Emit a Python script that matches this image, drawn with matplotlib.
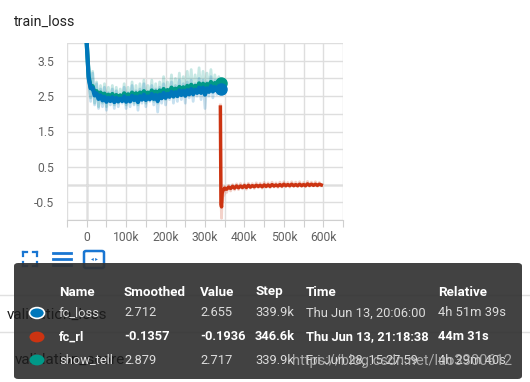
import matplotlib
matplotlib.use('Agg')
import matplotlib.pyplot as plt
from matplotlib.patches import FancyBboxPatch, Circle
from matplotlib.lines import Line2D

plt.rcParams['font.family'] = ['Roboto', 'DejaVu Sans']

# ---- data ----
fc_steps = [s * 1000 for s in range(0, 345, 5)]  # 0 .. 340k

fc_loss_raw = [4.10, 2.95, 2.35, 3.15, 2.25, 2.85, 2.15, 2.70, 2.20, 2.75,
               2.10, 2.60, 2.25, 2.70, 2.15, 2.65, 2.20, 2.55, 2.30, 2.75,
               2.15, 2.60, 2.20, 2.80, 2.25, 2.65, 2.10, 2.70, 2.30, 2.85,
               2.20, 2.60, 2.35, 2.80, 2.25, 2.70, 2.05, 2.75, 2.30, 2.85,
               2.25, 2.70, 2.40, 2.90, 2.30, 2.80, 2.35, 2.95, 2.40, 2.85,
               2.30, 2.90, 2.45, 2.95, 2.35, 2.85, 2.50, 3.00, 2.40, 2.95,
               2.15, 2.90, 2.50, 3.05, 2.45, 2.95, 2.55, 2.90, 2.655]
fc_loss_smooth = [4.00, 3.00, 2.72, 2.74, 2.52, 2.58, 2.42, 2.52, 2.38, 2.48,
                  2.34, 2.45, 2.36, 2.47, 2.33, 2.45, 2.35, 2.43, 2.36, 2.49,
                  2.34, 2.45, 2.35, 2.51, 2.39, 2.48, 2.33, 2.50, 2.40, 2.54,
                  2.39, 2.49, 2.41, 2.56, 2.42, 2.53, 2.36, 2.54, 2.44, 2.59,
                  2.45, 2.56, 2.48, 2.62, 2.49, 2.61, 2.50, 2.66, 2.53, 2.65,
                  2.51, 2.67, 2.55, 2.70, 2.55, 2.68, 2.59, 2.74, 2.59, 2.74,
                  2.54, 2.72, 2.62, 2.78, 2.63, 2.76, 2.66, 2.77, 2.712]

show_tell_raw = [4.05, 3.00, 2.45, 3.20, 2.30, 2.90, 2.20, 2.80, 2.30, 2.85,
                 2.20, 2.75, 2.35, 2.80, 2.25, 2.75, 2.30, 2.70, 2.40, 2.85,
                 2.25, 2.75, 2.35, 2.90, 2.30, 2.80, 2.25, 2.85, 2.40, 2.95,
                 2.30, 2.80, 2.45, 2.95, 2.35, 2.85, 2.30, 2.90, 2.45, 3.05,
                 2.40, 2.90, 2.50, 3.10, 2.45, 3.00, 2.50, 3.15, 2.55, 3.05,
                 2.50, 3.20, 2.60, 3.25, 2.55, 3.10, 2.65, 3.30, 2.60, 3.20,
                 2.55, 3.15, 2.70, 3.25, 2.65, 3.10, 2.75, 3.05, 2.717]
show_tell_smooth = [4.00, 3.05, 2.76, 2.78, 2.58, 2.64, 2.49, 2.60, 2.47, 2.57,
                    2.43, 2.54, 2.44, 2.56, 2.42, 2.53, 2.44, 2.52, 2.45, 2.58,
                    2.44, 2.55, 2.46, 2.60, 2.48, 2.58, 2.45, 2.60, 2.50, 2.64,
                    2.49, 2.60, 2.52, 2.66, 2.52, 2.63, 2.51, 2.66, 2.56, 2.70,
                    2.55, 2.67, 2.58, 2.74, 2.60, 2.71, 2.61, 2.76, 2.64, 2.75,
                    2.62, 2.79, 2.68, 2.82, 2.67, 2.79, 2.71, 2.86, 2.72, 2.85,
                    2.70, 2.84, 2.76, 2.90, 2.77, 2.87, 2.80, 2.89, 2.879]

rl_steps = [339000, 340500, 342000, 343500, 345000, 346600, 348000, 350000] + \
           [s * 1000 for s in range(355, 600, 5)]
fc_rl_raw = [2.25, -0.40, -0.95, -0.30, -0.45, -0.1936, -0.30, -0.05,
             -0.22, -0.02, -0.18, 0.00, -0.15, 0.02, -0.14, 0.03, -0.12, 0.02,
             -0.13, 0.04, -0.10, 0.03, -0.11, 0.05, -0.09, 0.04, -0.10, 0.06,
             -0.08, 0.05, -0.09, 0.07, -0.07, 0.05, -0.08, 0.07, -0.07, 0.08,
             -0.06, 0.06, -0.07, 0.08, -0.05, 0.07, -0.06, 0.08, -0.05, 0.06,
             -0.06, 0.09, -0.05, 0.07, -0.04, 0.08, -0.05, 0.06, -0.03]
fc_rl_smooth = [2.19, -0.55, -0.63, -0.25, -0.18, -0.1357, -0.14, -0.10,
                -0.13, -0.07, -0.11, -0.05, -0.10, -0.04, -0.09, -0.04, -0.08, -0.03,
                -0.08, -0.02, -0.07, -0.03, -0.06, -0.02, -0.05, -0.02, -0.06, -0.01,
                -0.05, -0.01, -0.05, 0.00, -0.04, -0.01, -0.04, 0.00, -0.04, 0.01,
                -0.03, 0.00, -0.03, 0.01, -0.03, 0.00, -0.03, 0.01, -0.03, 0.00,
                -0.03, 0.02, -0.02, 0.01, -0.02, 0.01, -0.02, 0.01, -0.01]

run_names = ['fc_loss', 'fc_rl', 'show_tell']
run_colors = ['#0077bb', '#cc3311', '#009988']
smoothed_vals = ['2.712', '-0.1357', '2.879']
raw_vals = ['2.655', '-0.1936', '2.717']
step_vals = ['339.9k', '346.6k', '339.9k']
time_vals = ['Thu Jun 13, 20:06:00', 'Thu Jun 13, 21:18:38', 'Fri Jun 28, 15:27:59']
relative_vals = ['4h 51m 39s', '44m 31s', '4h 29m 40s']

W, H = 530, 382
def fx(x):
    return x / W
def fy(y):
    return 1 - y / H

fig = plt.figure(figsize=(5.3, 3.82), dpi=100)
fig.patch.set_facecolor('white')

ax = fig.add_axes([fx(67), fy(220), fx(343) - fx(67), fy(43) - fy(220)])

# raw (faint) lines
ax.plot(fc_steps, show_tell_raw, color='#009988', alpha=0.22, lw=2, zorder=2)
ax.plot(fc_steps, fc_loss_raw, color='#0077bb', alpha=0.22, lw=2, zorder=2)
ax.plot(rl_steps, fc_rl_raw, color='#cc3311', alpha=0.22, lw=2, zorder=2)

# smoothed lines
ax.plot(fc_steps, show_tell_smooth, color='#009988', lw=3, zorder=3)
ax.plot(fc_steps, fc_loss_smooth, color='#0077bb', lw=3, zorder=4)
ax.plot(rl_steps, fc_rl_smooth, color='#cc3311', lw=2.5, zorder=4)

# hover dots
ax.plot([339900], [2.879], 'o', color='#009988', ms=8, zorder=5)
ax.plot([339900], [2.712], 'o', color='#0077bb', ms=8, zorder=5)

ax.set_xlim(-50000, 650000)
ax.set_ylim(-1.0, 4.0)

xt = [s * 1000 for s in range(-50, 651, 50)]
ax.set_xticks(xt)
ax.set_xticklabels(['' if (t % 100000) or t < 0 else ('0' if t == 0 else '%dk' % (t // 1000)) for t in xt])
yt = [v / 2 for v in range(-2, 9)]
ax.set_yticks(yt)
ax.set_yticklabels(['%g' % v if (v * 2) % 2 == 1 else '' for v in yt])

ax.grid(True, color='#dedede', lw=1, zorder=0)
ax.axhline(0, color='#9e9e9e', lw=1, zorder=1)
ax.axvline(0, color='#9e9e9e', lw=1, zorder=1)
for s in ['top', 'right', 'left']:
    ax.spines[s].set_visible(False)
ax.spines['bottom'].set_color('#cfcfcf')
ax.tick_params(axis='x', length=5, color='#cfcfcf', labelsize=8.7, labelcolor='#616161', pad=3)
ax.tick_params(axis='y', length=0, labelsize=8.7, labelcolor='#616161', pad=9)

fig.text(fx(14), fy(22), 'train_loss', fontsize=10.2, color='#212121', va='center', ha='left')

# toolbar icons
icon = '#1976d2'
for (x0, y0, dx, dy) in [(23, 252, 1, 1), (37, 252, -1, 1), (23, 266, 1, -1), (37, 266, -1, -1)]:
    fig.add_artist(Line2D([fx(x0), fx(x0 + 4 * dx)], [fy(y0), fy(y0)], color=icon, lw=1.6))
    fig.add_artist(Line2D([fx(x0), fx(x0)], [fy(y0), fy(y0 + 4 * dy)], color=icon, lw=1.6))
for yy in [253, 259, 265]:
    fig.add_artist(Line2D([fx(53), fx(71)], [fy(yy), fy(yy)], color=icon, lw=2.0))
fig.add_artist(FancyBboxPatch((fx(84), fy(268)), fx(104) - fx(84), fy(251) - fy(268),
                              boxstyle='round,pad=0,rounding_size=0.004', fill=False,
                              ec=icon, lw=1.8, transform=fig.transFigure))
fig.text(fx(94), fy(259.5), '◂ ▸', fontsize=4, color=icon, ha='center', va='center')

# stuff behind the tooltip
fig.add_artist(Line2D([0, 1], [fy(295), fy(295)], color='#e0e0e0', lw=1))
fig.add_artist(Line2D([0, 1], [fy(332), fy(332)], color='#e0e0e0', lw=1))

# tooltip
fig.add_artist(FancyBboxPatch((fx(14), fy(379)), fx(522) - fx(14), fy(263) - fy(379),
                              boxstyle='round,pad=0,rounding_size=0.008',
                              fc='#333333', ec='none', alpha=0.93,
                              transform=fig.transFigure, zorder=5))

# card titles of the page underneath bleed through the tooltip
fig.text(fx(7), fy(315), 'validation_loss', fontsize=11, color='#1c1c1c', va='center', zorder=5.5)
fig.text(fx(15), fy(360), 'validation_score', fontsize=11, color='#1c1c1c', va='center', zorder=5.5)

headers = ['Name', 'Smoothed', 'Value', 'Step', 'Time', 'Relative']
col_x = [59, 124, 200, 255, 306, 438]
for h, cx in zip(headers, col_x):
    fig.text(fx(cx), fy(292), h, fontsize=9.6, color='white', fontweight='bold',
             va='center', ha='left', zorder=6)

row_y = [313, 337, 360]
for i in range(3):
    bold = (i == 1)
    col = 'white' if bold else '#dcdcdc'
    fw = 'bold' if bold else 'normal'
    circ = Circle((fx(37), fy(row_y[i])), 7.5 / W, transform=fig.transFigure,
                  fc=run_colors[i], ec='white' if i == 0 else 'none', lw=1.2, zorder=6)
    fig.add_artist(circ)
    vals = [run_names[i], smoothed_vals[i], raw_vals[i], step_vals[i], time_vals[i], relative_vals[i]]
    for v, cx in zip(vals, col_x):
        fig.text(fx(cx), fy(row_y[i]), v, fontsize=9.3, color=col, fontweight=fw,
                 va='center', ha='left', zorder=6)

# watermark
fig.text(fx(512), fy(361), 'https://blog.csdn.net/luo3300612', fontsize=10.5, color='#bbbbbb',
         alpha=0.85, ha='right', va='center', zorder=7)

fig.savefig('out.png', dpi=100)
